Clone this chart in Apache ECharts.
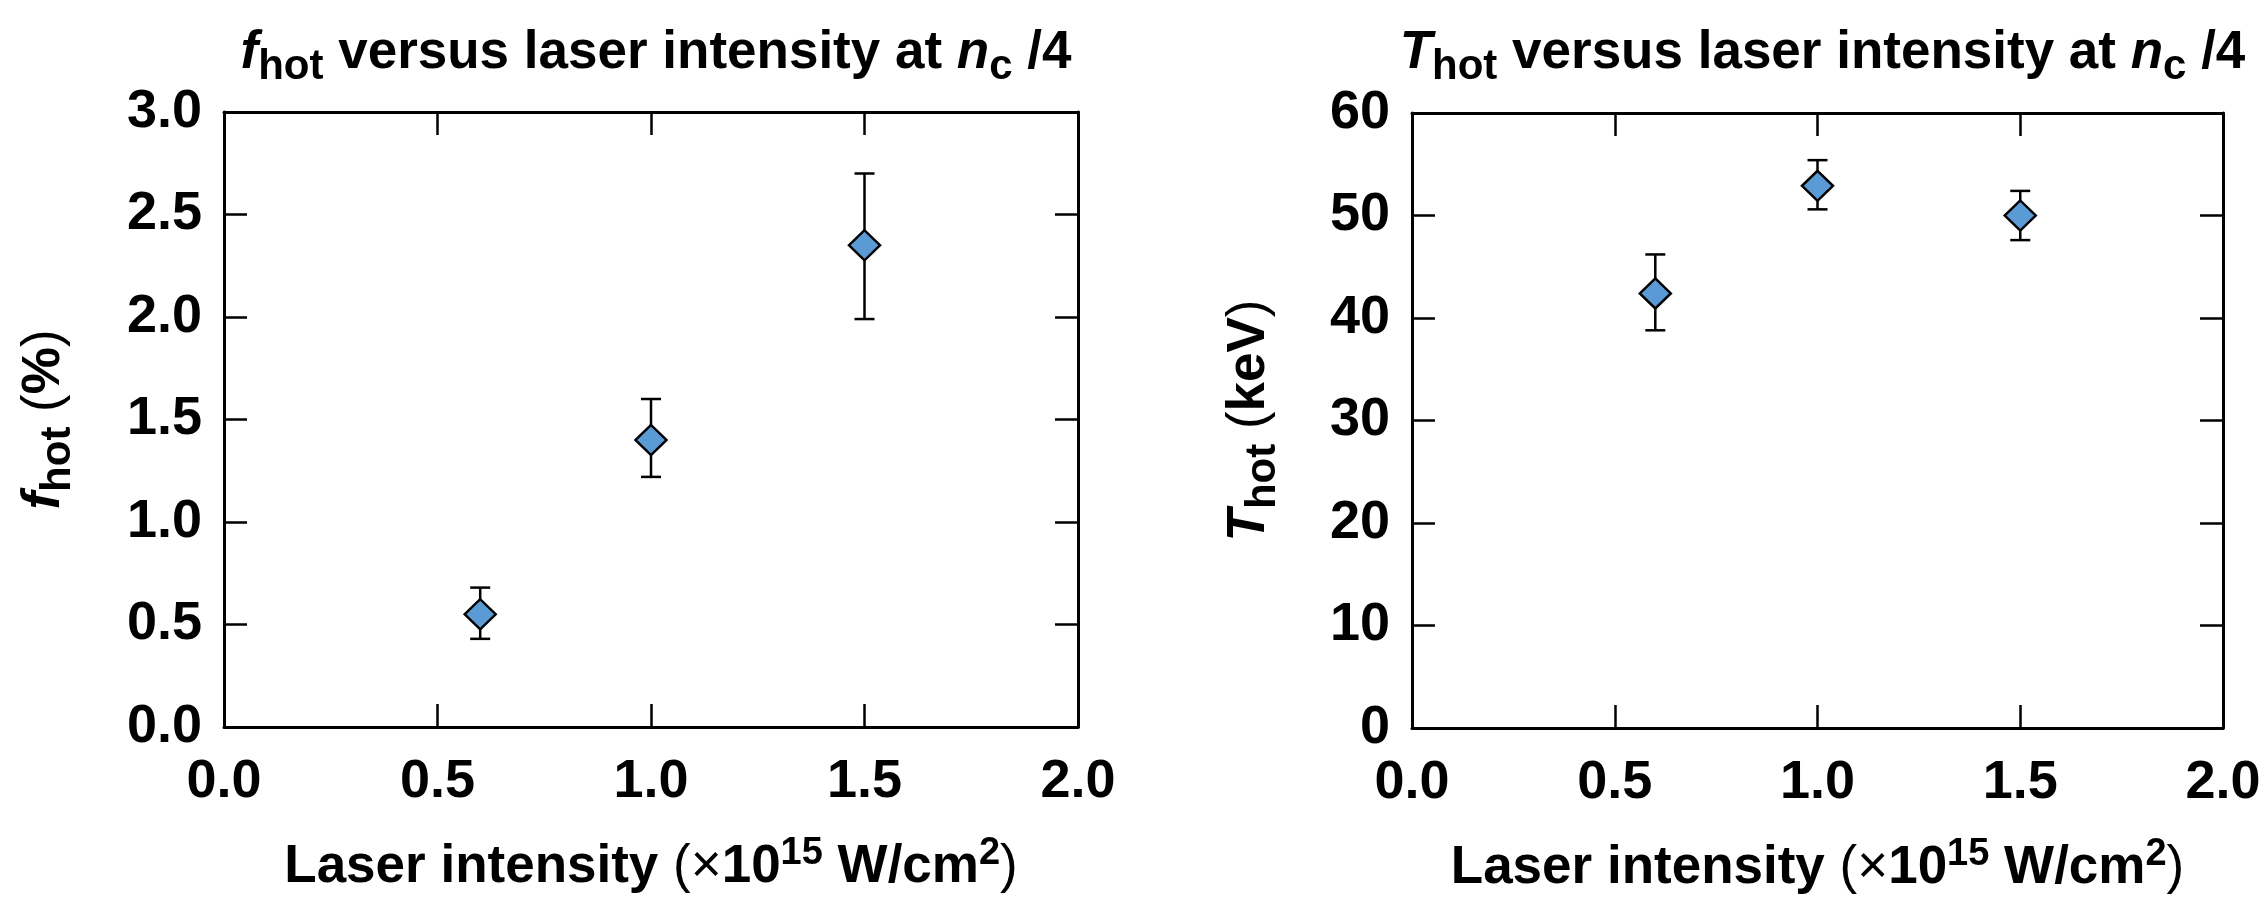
<!DOCTYPE html>
<html>
<head>
<meta charset="utf-8">
<script src="https://cdn.jsdelivr.net/npm/echarts@6/dist/echarts.min.js"></script>
<style>
html,body{margin:0;padding:0;background:#fff;}
#chart{width:2268px;height:897px;}
</style>
</head>
<body>
<div id="chart"></div>
<script>
// ---- data ----
const intensity = [0.6, 1.0, 1.5];
const fhot = [0.55, 1.40, 2.35];
const fhotLow = [0.43, 1.22, 1.99];
const fhotHigh = [0.68, 1.60, 2.70];
const thot = [42.4, 52.9, 50.0];
const thotLow = [38.8, 50.6, 47.6];
const thotHigh = [46.2, 55.4, 52.4];
const xTicks = [0.0, 0.5, 1.0, 1.5, 2.0];
const fTicks = [0.0, 0.5, 1.0, 1.5, 2.0, 2.5, 3.0];
const tTicks = [0, 10, 20, 30, 40, 50, 60];

const FONT = '"Liberation Sans", Arial, Helvetica, sans-serif';
const BLACK = '#000';
const FILL = '#5b9bd5';
const TICK_FS = 54;
const NAME_FS = 53;
const TITLE_FS = 53;

const chart = echarts.init(document.getElementById('chart'), null, {renderer: 'canvas'});

const grids = [
  {left: 224, top: 112, width: 854, height: 615, containLabel: false, outerBoundsMode: 'none'},
  {left: 1412, top: 113, width: 811, height: 615, containLabel: false, outerBoundsMode: 'none'}
];

function richBase(size) {
  return {
    n: {fontSize: size, fontWeight: 'bold', fontFamily: FONT, color: BLACK},
    r: {fontSize: size, fontWeight: 'normal', fontFamily: FONT, color: BLACK},
    i: {fontSize: size, fontWeight: 'bold', fontStyle: 'italic', fontFamily: FONT, color: BLACK},
    sub: {fontSize: Math.round(size * 0.8), fontWeight: 'bold', fontFamily: FONT, color: BLACK, padding: [Math.round(size * 0.5), 0, 0, 0]},
    sup: {fontSize: Math.round(size * 0.72), fontWeight: 'bold', fontFamily: FONT, color: BLACK, padding: [0, 0, Math.round(size * 0.5), 0]}
  };
}

function xAxisPair(gi) {
  const common = {
    type: 'value', gridIndex: gi, min: xTicks[0], max: xTicks[xTicks.length - 1],
    interval: xTicks[1] - xTicks[0],
    splitLine: {show: false},
    axisLine: {show: true, onZero: false, lineStyle: {color: BLACK, width: 3}},
    axisTick: {show: true, inside: true, length: 23, lineStyle: {color: BLACK, width: 2.5}}
  };
  return [
    Object.assign({}, common, {
      position: 'bottom',
      name: '{n|Laser intensity }{r|(×}{n|10}{sup|15}{n| W/cm}{sup|2}{r|)}',
      nameLocation: 'middle', nameGap: 108,
      nameTextStyle: {rich: richBase(NAME_FS)},
      axisLabel: {show: true, fontSize: TICK_FS, fontWeight: 'bold', fontFamily: FONT, color: BLACK, margin: 28,
        showMinLabel: true, showMaxLabel: true, formatter: v => v.toFixed(1)}
    }),
    Object.assign({}, common, {position: 'top', axisLabel: {show: false}})
  ];
}

function yAxisPair(gi, ticks, name, nameGap, fmt) {
  const common = {
    type: 'value', gridIndex: gi, min: ticks[0], max: ticks[ticks.length - 1],
    interval: ticks[1] - ticks[0],
    splitLine: {show: false},
    axisLine: {show: true, onZero: false, lineStyle: {color: BLACK, width: 3}},
    axisTick: {show: true, inside: true, length: 23, lineStyle: {color: BLACK, width: 2.5}}
  };
  return [
    Object.assign({}, common, {
      position: 'left',
      name: name, nameLocation: 'middle', nameGap: nameGap,
      nameTextStyle: {rich: richBase(NAME_FS)},
      axisLabel: {show: true, fontSize: TICK_FS, fontWeight: 'bold', fontFamily: FONT, color: BLACK, margin: 22,
        showMinLabel: true, showMaxLabel: true, formatter: fmt}
    }),
    Object.assign({}, common, {position: 'right', axisLabel: {show: false}})
  ];
}

function errorSeries(xi, yi, xs, lo, hi) {
  return {
    type: 'custom', xAxisIndex: xi, yAxisIndex: yi, z: 2, silent: true,
    data: xs.map((x, k) => [x, lo[k], hi[k]]),
    renderItem: function (params, api) {
      const x = api.value(0);
      const pLo = api.coord([x, api.value(1)]);
      const pHi = api.coord([x, api.value(2)]);
      const cap = 10;
      const st = {stroke: BLACK, lineWidth: 2.5};
      return {
        type: 'group',
        children: [
          {type: 'line', shape: {x1: pLo[0], y1: pLo[1], x2: pHi[0], y2: pHi[1]}, style: st},
          {type: 'line', shape: {x1: pLo[0] - cap, y1: pLo[1], x2: pLo[0] + cap, y2: pLo[1]}, style: st},
          {type: 'line', shape: {x1: pHi[0] - cap, y1: pHi[1], x2: pHi[0] + cap, y2: pHi[1]}, style: st}
        ]
      };
    }
  };
}

function pointSeries(xi, yi, xs, ys) {
  return {
    type: 'scatter', xAxisIndex: xi, yAxisIndex: yi, z: 5, silent: true,
    symbol: 'diamond', symbolSize: [31, 30],
    itemStyle: {color: FILL, borderColor: BLACK, borderWidth: 2.5, opacity: 1},
    data: xs.map((x, k) => [x, ys[k]])
  };
}

const xAxes = xAxisPair(0).concat(xAxisPair(1));
const yAxes = yAxisPair(0, fTicks, '{i|f}{sub|hot}{n| }{r|(}{n|%}{r|)}', 145, v => v.toFixed(1))
  .concat(yAxisPair(1, tTicks, '{i|T}{sub|hot}{n| }{r|(}{n|keV}{r|)}', 128, v => String(Math.round(v))));

const option = {
  backgroundColor: '#fff',
  animation: false,
  title: [
    {text: '{i|f}{sub|hot}{n| versus laser intensity at }{i|n}{sub|c}{n| /4}',
     left: grids[0].left + grids[0].width / 2, top: 14, textAlign: 'center',
     textStyle: {rich: richBase(TITLE_FS)}},
    {text: '{i|T}{sub|hot}{n| versus laser intensity at }{i|n}{sub|c}{n| /4}',
     left: grids[1].left + grids[1].width / 2, top: 14, textAlign: 'center',
     textStyle: {rich: richBase(TITLE_FS)}}
  ],
  grid: grids,
  xAxis: xAxes,
  yAxis: yAxes,
  series: [
    errorSeries(0, 0, intensity, fhotLow, fhotHigh),
    pointSeries(0, 0, intensity, fhot),
    errorSeries(2, 2, intensity, thotLow, thotHigh),
    pointSeries(2, 2, intensity, thot)
  ]
};
chart.setOption(option);
</script>
</body>
</html>
